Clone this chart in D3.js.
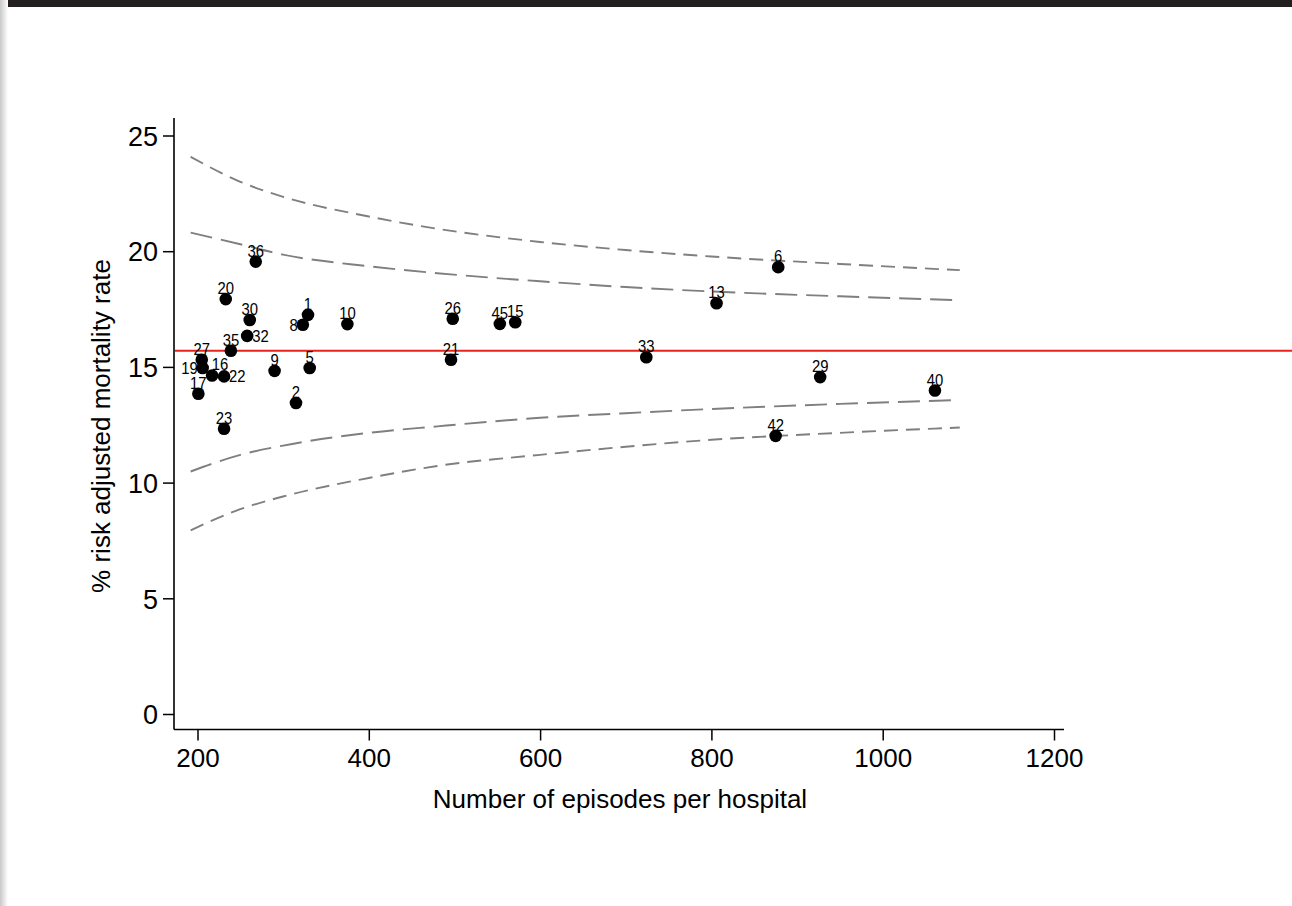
<!DOCTYPE html>
<html>
<head>
<meta charset="utf-8">
<script src="https://cdn.jsdelivr.net/npm/d3@7"></script>
<style>
  html, body { margin: 0; padding: 0; background: #fff; }
  svg { display: block; }
  text { font-family: "Liberation Sans", Arial, sans-serif; fill: #000; }
</style>
</head>
<body>
<svg id="chart" width="1292" height="906"></svg>
<script>
// Hospital funnel plot: risk adjusted mortality vs. number of episodes
const hospitalIds = [36, 20, 30, 1, 8, 10, 32, 35, 27, 19, 16, 22, 17, 9, 5, 2, 23, 26, 45, 15, 21, 33, 13, 6, 29, 40, 42];
const episodes    = [268, 233, 261, 329, 323, 375, 258, 239, 205, 206, 217, 231, 201, 290, 331, 315, 231, 498, 553, 571, 496, 724, 806, 878, 927, 1061, 875];
const mortality   = [19.55, 17.93, 17.03, 17.25, 16.82, 16.85, 16.34, 15.70, 15.31, 14.95, 14.63, 14.59, 13.84, 14.83, 14.95, 13.44, 12.33, 17.08, 16.86, 16.93, 15.31, 15.42, 17.75, 19.31, 14.56, 13.98, 12.02];

// Overall mortality rate
const overallRate = 15.7;

// Control limits sampled along the episode axis
const limitEpisodes = [192, 250, 300, 400, 480, 600, 700, 800, 950, 1090];
const outerUpper = [24.08, 23.0, 22.35, 21.5, 20.97, 20.4, 20.05, 19.77, 19.45, 19.18];
const innerUpper = [20.80, 20.3, 19.85, 19.35, 19.05, 18.7, 18.45, 18.26, 18.05, 17.88];
const innerLower = [10.48, 11.2, 11.6, 12.15, 12.43, 12.8, 13.0, 13.18, 13.4, 13.57];
const outerLower = [7.94, 8.85, 9.4, 10.2, 10.72, 11.2, 11.55, 11.85, 12.15, 12.38];

// Axis ticks
const xTicks = [200, 400, 600, 800, 1000, 1200];
const yTicks = [0, 5, 10, 15, 20, 25];

// Labels that sit beside their marker instead of above it
const labelSide = { 19: "left", 8: "left", 22: "right", 32: "right", 16: "topright" };

const svg = d3.select("#chart");

// page frame: dark strip along the top, soft shade on the left edge
const defs = svg.append("defs");
const grad = defs.append("linearGradient").attr("id", "edgeShade")
  .attr("x1", "0").attr("x2", "1").attr("y1", "0").attr("y2", "0");
grad.append("stop").attr("offset", "0").attr("stop-color", "#c9c9cb");
grad.append("stop").attr("offset", "1").attr("stop-color", "#ffffff");
svg.append("rect").attr("x", 0).attr("y", 0).attr("width", 1292).attr("height", 906).attr("fill", "#fff");
svg.append("rect").attr("x", 0).attr("y", 0).attr("width", 1292).attr("height", 7).attr("fill", "#231f20");
svg.append("rect").attr("x", 0).attr("y", 0).attr("width", 8).attr("height", 906).attr("fill", "url(#edgeShade)");

const x = d3.scaleLinear().domain([200, 1200]).range([197.5, 1054]);
const y = d3.scaleLinear().domain([0, 25]).range([714, 135.5]);

const axisX0 = 174, axisY0 = 729.5;

// y axis
const yAxis = svg.append("g").attr("transform", `translate(${axisX0},0)`)
  .call(d3.axisLeft(y).tickValues(yTicks).tickFormat(d3.format("d"))
    .tickSize(11).tickPadding(5).tickSizeOuter(0));
yAxis.select(".domain").remove();
yAxis.selectAll(".tick line").attr("stroke", "#000").attr("stroke-width", 1.5);
yAxis.selectAll(".tick text").attr("font-size", 27).attr("dy", "0.36em");
svg.append("line").attr("x1", axisX0).attr("x2", axisX0).attr("y1", 118).attr("y2", axisY0)
  .attr("stroke", "#000").attr("stroke-width", 1.6);

// x axis
const xAxis = svg.append("g").attr("transform", `translate(0,${axisY0})`)
  .call(d3.axisBottom(x).tickValues(xTicks).tickFormat(d3.format("d"))
    .tickSize(11).tickPadding(8).tickSizeOuter(0));
xAxis.select(".domain").remove();
xAxis.selectAll(".tick line").attr("stroke", "#000").attr("stroke-width", 1.5);
xAxis.selectAll(".tick text").attr("font-size", 26).attr("dy", "0.71em");
svg.append("line").attr("x1", axisX0).attr("x2", 1064).attr("y1", axisY0).attr("y2", axisY0)
  .attr("stroke", "#000").attr("stroke-width", 1.6);

// axis titles
svg.append("text").attr("x", 620).attr("y", 808).attr("text-anchor", "middle")
  .attr("font-size", 26).text("Number of episodes per hospital");
svg.append("text").attr("transform", "translate(110,426) rotate(-90)").attr("text-anchor", "middle")
  .attr("font-size", 26).text("% risk adjusted mortality rate");

// control limit curves
const limitLine = vals => d3.line()
  .x((d, i) => x(limitEpisodes[i]))
  .y((d, i) => y(vals[i]))
  .curve(d3.curveMonotoneX)(vals);

[[outerUpper, "14,8"], [innerUpper, "22,9"], [innerLower, "22,9"], [outerLower, "14,8"]]
  .forEach(([vals, dash]) => {
    svg.append("path").attr("d", limitLine(vals))
      .attr("fill", "none").attr("stroke", "#7f7f7f").attr("stroke-width", 1.9)
      .attr("stroke-dasharray", dash);
  });

// overall rate
svg.append("line").attr("x1", axisX0 + 1).attr("x2", 1292)
  .attr("y1", y(overallRate)).attr("y2", y(overallRate))
  .attr("stroke", "#e8231e").attr("stroke-width", 2);

// hospitals
const pts = hospitalIds.map((id, i) => ({ id, n: episodes[i], v: mortality[i] }));

svg.append("g").selectAll("circle").data(pts).join("circle")
  .attr("cx", d => x(d.n)).attr("cy", d => y(d.v)).attr("r", 6.3).attr("fill", "#000");

// hospital numbers, slightly condensed
const labelX = d => {
  const s = labelSide[d.id];
  if (s === "left") return x(d.n) - 5;
  if (s === "right") return x(d.n) + 5;
  if (s === "topright") return x(d.n) + 8;
  return x(d.n);
};
const labelY = d => {
  const s = labelSide[d.id];
  if (s === "left" || s === "right") return y(d.v) + 6;
  return y(d.v) - 5;
};
svg.append("g").selectAll("text").data(pts).join("text")
  .attr("font-size", 16.5)
  .attr("transform", d => `translate(${labelX(d)},${labelY(d)}) scale(0.9,1)`)
  .attr("text-anchor", d => {
    const s = labelSide[d.id];
    if (s === "left") return "end";
    if (s === "right") return "start";
    return "middle";
  })
  .text(d => d.id);
</script>
</body>
</html>
